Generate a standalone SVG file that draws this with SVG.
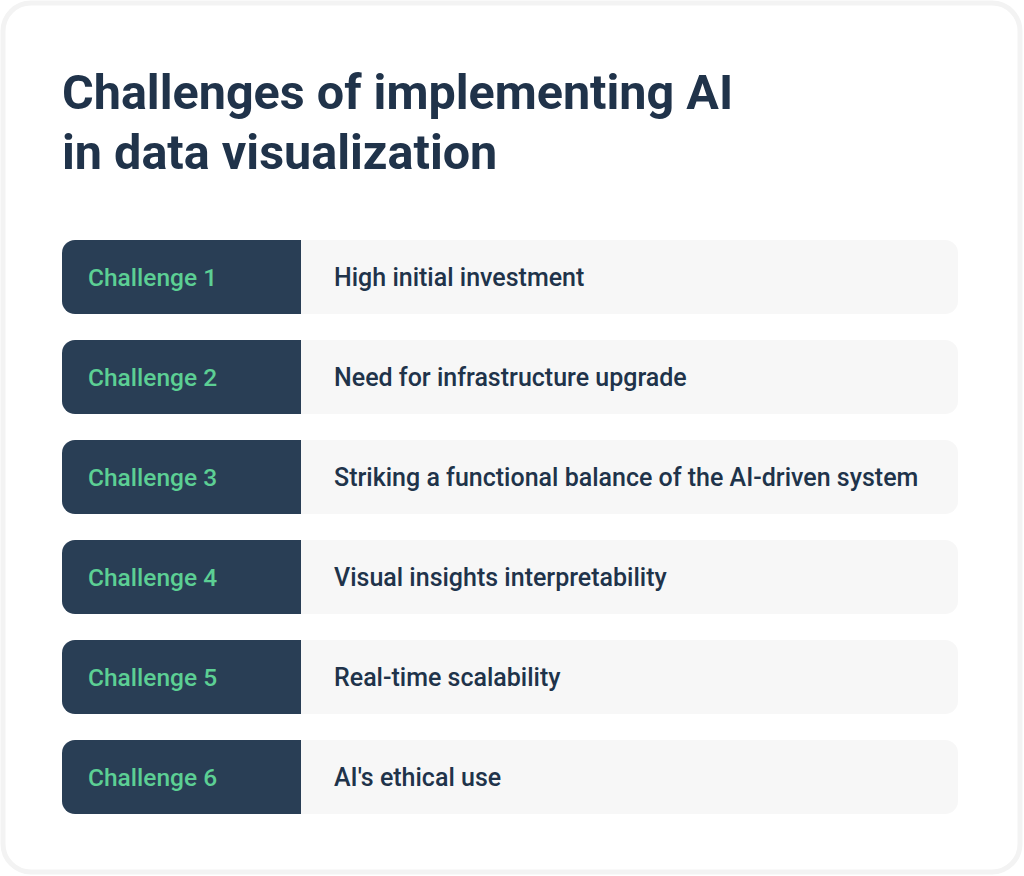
<svg xmlns="http://www.w3.org/2000/svg" width="1024" height="876" viewBox="0 0 1024 876">
<style>
.title{font-family:Roboto,"Liberation Sans",sans-serif;font-weight:700;font-size:48.5px;fill:#20334a}
.lab{font-family:Roboto,"Liberation Sans",sans-serif;font-weight:500;font-size:24.5px;fill:#5ccf94}
.desc{font-family:Roboto,"Liberation Sans",sans-serif;font-weight:500;font-size:25px;fill:#20334a}
.dark{fill:#293e55}
.light{fill:#f7f7f7}
</style>
<rect x="0" y="0" width="1024" height="876" fill="#ffffff"/>
<rect x="3" y="3" width="1017" height="869" rx="28" fill="#ffffff" stroke="#f3f3f3" stroke-width="5"/>
<g id="title">
<text class="title" x="62" y="109">Challenges of implementing AI</text>
<text class="title" x="62" y="169">in data visualization</text>
</g>
<g id="row1">
<rect class="light" x="280" y="240" width="678" height="74" rx="13"/>
<path class="dark" d="M75 240H301V314H75A13 13 0 0 1 62 301V253A13 13 0 0 1 75 240Z"/>
<text class="lab" x="88" y="286">Challenge 1</text>
<text class="desc" x="334" y="286">High initial investment</text>
</g>
<g id="row2">
<rect class="light" x="280" y="340" width="678" height="74" rx="13"/>
<path class="dark" d="M75 340H301V414H75A13 13 0 0 1 62 401V353A13 13 0 0 1 75 340Z"/>
<text class="lab" x="88" y="386">Challenge 2</text>
<text class="desc" x="334" y="386">Need for infrastructure upgrade</text>
</g>
<g id="row3">
<rect class="light" x="280" y="440" width="678" height="74" rx="13"/>
<path class="dark" d="M75 440H301V514H75A13 13 0 0 1 62 501V453A13 13 0 0 1 75 440Z"/>
<text class="lab" x="88" y="486">Challenge 3</text>
<text class="desc" x="334" y="486">Striking a functional balance of the AI-driven system</text>
</g>
<g id="row4">
<rect class="light" x="280" y="540" width="678" height="74" rx="13"/>
<path class="dark" d="M75 540H301V614H75A13 13 0 0 1 62 601V553A13 13 0 0 1 75 540Z"/>
<text class="lab" x="88" y="586">Challenge 4</text>
<text class="desc" x="334" y="586">Visual insights interpretability</text>
</g>
<g id="row5">
<rect class="light" x="280" y="640" width="678" height="74" rx="13"/>
<path class="dark" d="M75 640H301V714H75A13 13 0 0 1 62 701V653A13 13 0 0 1 75 640Z"/>
<text class="lab" x="88" y="686">Challenge 5</text>
<text class="desc" x="334" y="686">Real-time scalability</text>
</g>
<g id="row6">
<rect class="light" x="280" y="740" width="678" height="74" rx="13"/>
<path class="dark" d="M75 740H301V814H75A13 13 0 0 1 62 801V753A13 13 0 0 1 75 740Z"/>
<text class="lab" x="88" y="786">Challenge 6</text>
<text class="desc" x="334" y="786">AI's ethical use</text>
</g>
<g id="connectors"/>
</svg>
